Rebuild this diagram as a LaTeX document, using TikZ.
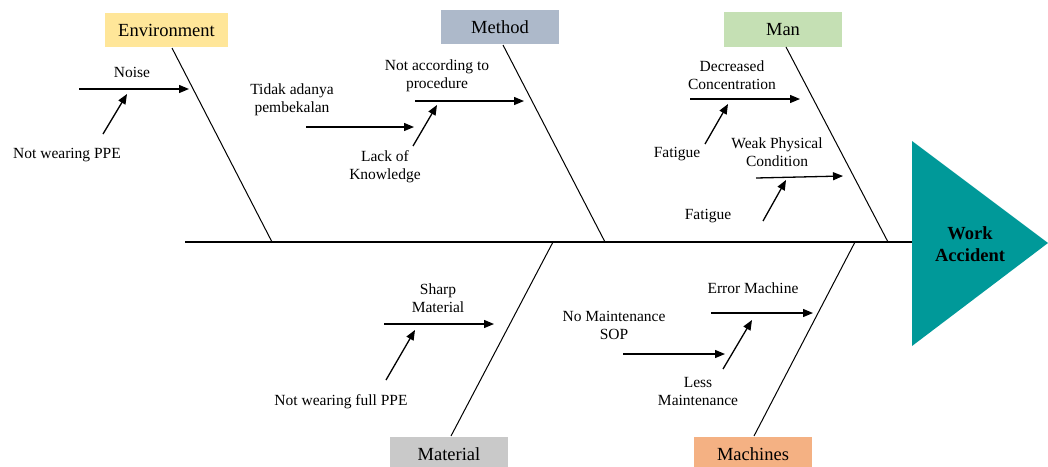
\documentclass[tikz,border=0pt]{standalone}
\usepackage{fontspec}
\setmainfont{Liberation Serif}
\usetikzlibrary{arrows.meta}
\definecolor{envc}{HTML}{FFE699}
\definecolor{metc}{HTML}{ADB9CA}
\definecolor{manc}{HTML}{C5E0B4}
\definecolor{matc}{HTML}{C9C9C9}
\definecolor{macc}{HTML}{F4B183}
\definecolor{fishteal}{HTML}{009999}
\begin{document}
\begin{tikzpicture}[x=1pt,y=-1pt,
  lbl/.style={font=\fontsize{15.5}{18}\selectfont, align=center, inner sep=0pt},
  hdr/.style={font=\fontsize{18.5}{20}\selectfont, inner sep=0pt, minimum width=118pt, minimum height=34pt, text depth=0pt},
  bone/.style={line width=1pt},
  cause/.style={line width=1.3pt, -{Triangle[length=10pt,width=8pt]}},
]
\clip (0,0) rectangle (1048,466);
\useasboundingbox (0,0) rectangle (1048,466);

% head
\coordinate (triT) at (912,141);
\coordinate (triP) at (1048,243);
\coordinate (triB) at (912,346);
\coordinate (triL) at (912,242);
\fill[fishteal] (triT) -- (triP) -- (triB) -- cycle;
\node[font=\fontsize{18.5}{22}\selectfont\bfseries, align=center, inner sep=0pt] (wa) at (970,244) {Work\\Accident};

% spine
\coordinate (spineL) at (185,242);
\draw[line width=2.5pt] (spineL) -- (triL);

% category boxes
\node[hdr, fill=envc, minimum width=123pt] (env) at (166.5,30) {Environment};
\node[hdr, fill=metc] (met) at (500,27) {Method};
\node[hdr, fill=manc, minimum height=35pt] (man) at (783,29.5) {Man};
\node[hdr, fill=matc] (mat) at (449,454) {Material};
\node[hdr, fill=macc] (mac) at (753,454) {Machines};

% bones
\coordinate (envT) at (172,48);  \coordinate (envB) at (272,242);
\coordinate (metT) at (503,45);  \coordinate (metB) at (605,242);
\coordinate (manT) at (786,47);  \coordinate (manB) at (888,242);
\coordinate (matB) at (451,436); \coordinate (matT) at (553,242);
\coordinate (macB) at (754,436); \coordinate (macT) at (855,242);
\draw[bone] (envT) -- (envB);
\draw[bone] (metT) -- (metB);
\draw[bone] (manT) -- (manB);
\draw[bone] (matB) -- (matT);
\draw[bone] (macB) -- (macT);

% Environment causes
\node[lbl] (noise) at (132,72) {Noise};
\coordinate (noiseS) at (79,89); \coordinate (noiseE) at (189,89);
\draw[cause] (noiseS) -- (noiseE);
\node[lbl] (nwppe) at (67,155) {Not wearing PPE};
\coordinate (nwS) at (103,134); \coordinate (nwE) at (127,94);
\draw[cause] (nwS) -- (nwE);

% Method causes
\node[lbl] (tidak) at (292,99.5) {Tidak adanya\\pembekalan};
\coordinate (tidS) at (306,127); \coordinate (tidE) at (414,127);
\draw[cause] (tidS) -- (tidE);
\node[lbl] (nact) at (437,75.5) {Not according to\\procedure};
\coordinate (nacS) at (415,101); \coordinate (nacE) at (524,101);
\draw[cause] (nacS) -- (nacE);
\node[lbl] (lack) at (385,166.5) {Lack of\\Knowledge};
\coordinate (lacS) at (413,146); \coordinate (lacE) at (437,105);
\draw[cause] (lacS) -- (lacE);

% Man causes
\node[lbl] (dec) at (732,75) {Decreased\\Concentration};
\coordinate (decS) at (690,99); \coordinate (decE) at (800,99);
\draw[cause] (decS) -- (decE);
\node[lbl] (fat1) at (677,154) {Fatigue};
\coordinate (f1S) at (705,144); \coordinate (f1E) at (728,104);
\draw[cause] (f1S) -- (f1E);
\node[lbl] (weak) at (777,152) {Weak Physical\\Condition};
\coordinate (wkS) at (756,178); \coordinate (wkE) at (843,176);
\draw[cause] (wkS) -- (wkE);
\node[lbl] (fat2) at (708,216) {Fatigue};
\coordinate (f2S) at (763,221); \coordinate (f2E) at (786,180);
\draw[cause] (f2S) -- (f2E);

% Material causes
\node[lbl] (sharp) at (438,298.5) {Sharp\\Material};
\coordinate (shS) at (384,324); \coordinate (shE) at (494,324);
\draw[cause] (shS) -- (shE);
\node[lbl] (nwf) at (341,402) {Not wearing full PPE};
\coordinate (nfS) at (386,380); \coordinate (nfE) at (415,330);
\draw[cause] (nfS) -- (nfE);

% Machines causes
\node[lbl] (err) at (753,288) {Error Machine};
\coordinate (erS) at (711,313); \coordinate (erE) at (813,313);
\draw[cause] (erS) -- (erE);
\node[lbl] (nms) at (614,325) {No Maintenance\\SOP};
\coordinate (nmS) at (623,354); \coordinate (nmE) at (725,354);
\draw[cause] (nmS) -- (nmE);
\node[lbl] (less) at (698,391.5) {Less\\Maintenance};
\coordinate (lsS) at (723,369); \coordinate (lsE) at (752,320);
\draw[cause] (lsS) -- (lsE);
\end{tikzpicture}
\end{document}
